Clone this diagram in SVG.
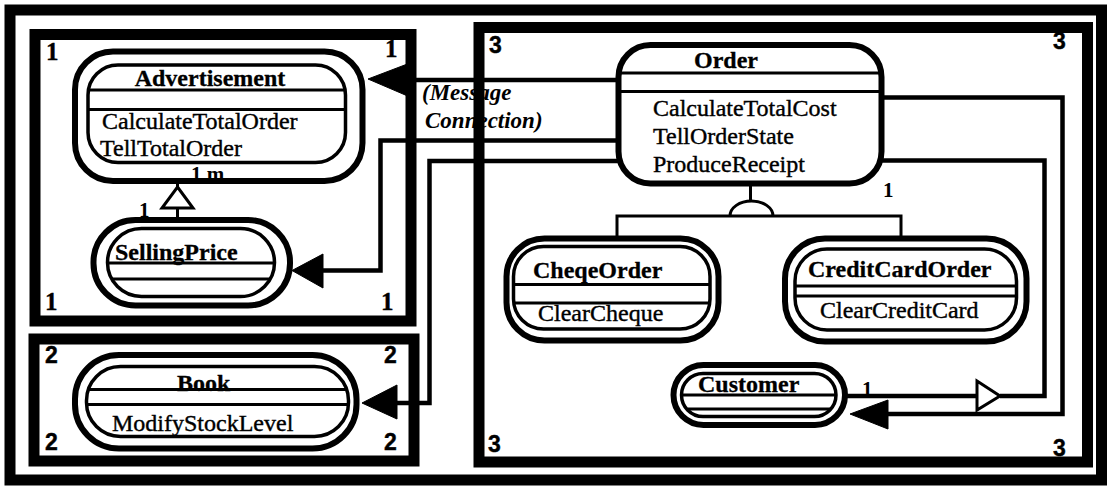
<svg xmlns="http://www.w3.org/2000/svg" width="1107" height="488" viewBox="0 0 1107 488">
<style>
.frame{fill:none;stroke:#000;stroke-width:11}
.outer{fill:#fff;stroke:#000;stroke-width:6}
.inner{fill:none;stroke:#000;stroke-width:3.5}
.sep{stroke:#000;stroke-width:3}
.msg{fill:none;stroke:#000;stroke-width:4.5;stroke-linejoin:miter}
.gen{fill:none;stroke:#000;stroke-width:3}
.head{fill:#000;stroke:#000;stroke-width:1}
.hollow{fill:#fff;stroke:#000;stroke-width:3;stroke-linejoin:miter}
.title{font-family:"Liberation Serif","Times New Roman",serif;font-weight:bold;font-size:24px;fill:#000;stroke:#000;stroke-width:0.3}
.op{font-family:"Liberation Serif","Times New Roman",serif;font-size:24px;fill:#000;stroke:#000;stroke-width:0.4}
.num1{font-family:"Liberation Serif","Times New Roman",serif;font-weight:bold;font-size:25px;fill:#000;stroke:#000;stroke-width:0.4}
.numS{font-family:"Liberation Sans",Arial,sans-serif;font-weight:bold;font-size:23px;fill:#000;stroke:#000;stroke-width:0.4}
.mult{font-family:"Liberation Serif","Times New Roman",serif;font-weight:bold;font-size:21px;fill:#000}
.lbl{font-family:"Liberation Serif","Times New Roman",serif;font-weight:bold;font-style:italic;font-size:23px;fill:#000}
</style>
<rect width="1107" height="488" fill="#fff"/>
<g id="connector-labels">
<text class="lbl" x="422" y="100">(Message</text>
<text class="lbl" x="425" y="128">Connection)</text>
</g>
<g id="frames">
<rect class="frame" x="10" y="10" width="1091.5" height="470" stroke-width="10"/>
<rect class="frame" x="35" y="34.5" width="376" height="286.5"/>
<rect class="frame" x="34" y="339" width="380" height="122"/>
<rect class="frame" x="479" y="27.5" width="608.5" height="434.5"/>
</g>
<g id="connectors">
<path class="msg" d="M408,80 H618"/>
<path class="msg" d="M618,140.5 H380.5 V270.5 H320"/>
<path class="msg" d="M620,161 H429.5 V403 H395"/>
<path class="msg" d="M881,97.5 H1062.5 V414 H886"/>
<path class="msg" d="M880,160.5 H1044.5 V396 H1000 M977,396 H846"/>
<path class="gen" d="M750.5,183 V202 M617,246 V216 H901 V249"/>
<path class="gen" d="M730,216 A21.5,15 0 0 1 773,216"/>
<path class="gen" d="M177.5,162 V188 M177.5,207 V228"/>
<polygon class="head" points="368,79 410,63 410,97"/>
<polygon class="head" points="292,270.5 323,254 323,288"/>
<polygon class="head" points="362,403 397,385 397,419"/>
<polygon class="head" points="850,414 888,400 888,429"/>
<polygon class="hollow" points="177.5,187 193,208 162,208"/>
<polygon class="hollow" points="977,381 1000,396 977,410"/>
</g>
<g id="node-advertisement">
<rect class="outer" x="75" y="51.5" width="287.5" height="129.5" rx="38"/>
<rect class="inner" x="88" y="65" width="257.5" height="97.5" rx="30"/>
<line class="sep" x1="89" y1="90" x2="344.5" y2="90"/>
<line class="sep" x1="89" y1="109.5" x2="344.5" y2="109.5"/>
<text class="title" x="210" y="86" text-anchor="middle">Advertisement</text>
<text class="op" x="102" y="129">CalculateTotalOrder</text>
<text class="op" x="100" y="156">TellTotalOrder</text>
</g>
<g id="node-sellingprice">
<rect class="outer" x="93.5" y="220" width="196.5" height="85.5" rx="42"/>
<rect class="inner" x="107.5" y="228.5" width="167" height="68" rx="34"/>
<line class="sep" x1="108" y1="263" x2="274" y2="263"/>
<line class="sep" x1="111" y1="279" x2="271" y2="279"/>
<text class="title" x="115" y="260">SellingPrice</text>
</g>
<g id="node-book">
<rect class="outer" x="75" y="355" width="281.5" height="93.5" rx="44"/>
<rect class="inner" x="86.5" y="366.5" width="262" height="70" rx="34"/>
<line class="sep" x1="88" y1="389.5" x2="347" y2="389.5"/>
<line class="sep" x1="87" y1="404.5" x2="348" y2="404.5"/>
<text class="title" x="177" y="391">Book</text>
<text class="op" x="112" y="431">ModifyStockLevel</text>
</g>
<g id="node-order">
<rect class="outer" x="618.5" y="45" width="263" height="138.5" rx="32"/>
<line class="sep" x1="621" y1="73" x2="879" y2="73"/>
<line class="sep" x1="621" y1="91.5" x2="879" y2="91.5" stroke-width="2.5"/>
<text class="title" x="726" y="68" text-anchor="middle">Order</text>
<text class="op" x="653" y="116">CalculateTotalCost</text>
<text class="op" x="653" y="144">TellOrderState</text>
<text class="op" x="653" y="172">ProduceReceipt</text>
</g>
<g id="node-cheqeorder">
<rect class="outer" x="506.5" y="238.5" width="212" height="102" rx="38"/>
<rect class="inner" x="513.5" y="246.5" width="196.5" height="82.5" rx="30"/>
<line class="sep" x1="514" y1="284.5" x2="709.5" y2="284.5"/>
<line class="sep" x1="514" y1="303" x2="709.5" y2="303"/>
<text class="title" x="533" y="278">CheqeOrder</text>
<text class="op" x="538" y="321">ClearCheque</text>
</g>
<g id="node-creditcardorder">
<rect class="outer" x="785" y="238.5" width="241.5" height="103" rx="40"/>
<rect class="inner" x="795" y="249" width="221.5" height="81" rx="32"/>
<line class="sep" x1="796" y1="286" x2="1015.5" y2="286"/>
<line class="sep" x1="796" y1="296" x2="1015.5" y2="296"/>
<text class="title" x="808" y="277">CreditCardOrder</text>
<text class="op" x="820" y="318">ClearCreditCard</text>
</g>
<g id="node-customer">
<rect class="outer" x="673.5" y="365" width="171.5" height="60" rx="30"/>
<rect class="inner" x="681.5" y="373.5" width="154.5" height="43" rx="21.5"/>
<line class="sep" x1="682" y1="395" x2="835.5" y2="395"/>
<line class="sep" x1="688" y1="409" x2="830" y2="409"/>
<text class="title" x="698" y="392">Customer</text>
</g>
<g id="labels">
<text class="num1" x="46" y="60">1</text>
<text class="num1" x="385" y="57">1</text>
<text class="num1" x="45" y="310">1</text>
<text class="num1" x="381" y="310">1</text>
<text class="numS" x="45" y="363">2</text>
<text class="numS" x="384" y="363">2</text>
<text class="numS" x="45" y="450">2</text>
<text class="numS" x="384" y="450">2</text>
<text class="numS" x="489" y="53">3</text>
<text class="numS" x="1053" y="49">3</text>
<text class="numS" x="488" y="452">3</text>
<text class="numS" x="1053" y="456">3</text>
<text class="mult" x="191" y="181">1 m</text>
<text class="mult" x="139" y="217">1</text>
<text class="mult" x="883" y="197">1</text>
<text class="mult" x="862" y="396">1</text>
</g>
</svg>
